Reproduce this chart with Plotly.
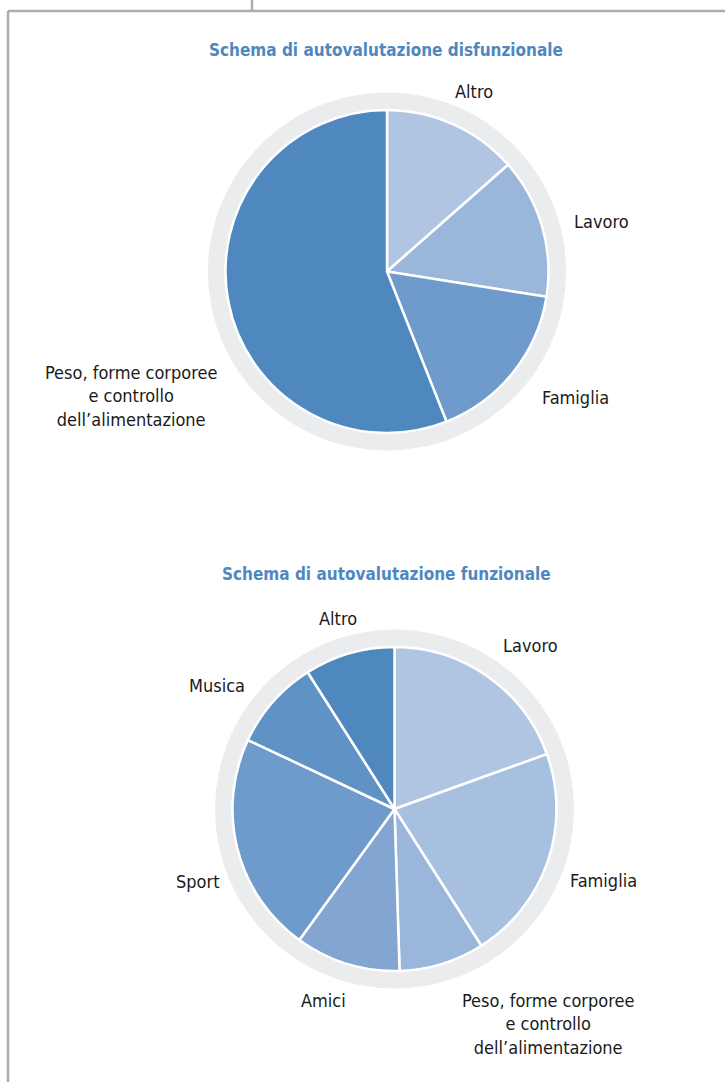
import plotly.graph_objects as go

W, H = 725, 1082

# ---- data ----
title_top = "Schema di autovalutazione disfunzionale"
labels_top = ["Altro", "Lavoro", "Famiglia",
              "Peso, forme corporee<br>e controllo<br>dell\u2019alimentazione"]
values_top = [13.5, 14, 16.5, 56]
colors_top = ["#AFC5E1", "#9AB7DB", "#6E9BCB", "#4F88BF"]

title_bot = "Schema di autovalutazione funzionale"
labels_bot = ["Lavoro", "Famiglia",
              "Peso, forme corporee<br>e controllo<br>dell\u2019alimentazione",
              "Amici", "Sport", "Musica", "Altro"]
values_bot = [19.5, 21.5, 8.5, 10.5, 22, 9, 9]
colors_bot = ["#AFC5E1", "#A7C0E0", "#9AB7DB", "#82A6D1", "#6E9BCB", "#5F92C5", "#4F88BF"]

# label placement (pixel centres) – layout only
pos_top = [(474, 92), (601, 222), (575, 397), (131, 396)]
pos_bot = [(530, 645), (603, 880), (548, 1024), (323, 1000), (197, 881), (217, 685), (338, 618)]

FONT = "Noto Sans Condensed, DejaVu Sans Condensed, Liberation Sans Narrow, Roboto Condensed, Open Sans, sans-serif"
RING = "#EBECEE"
TITLE_C = "#4F88BF"


def dom(cx, cy, r):
    return dict(x=[(cx - r) / W, (cx + r) / W], y=[1 - (cy + r) / H, 1 - (cy - r) / H])


fig = go.Figure()

for (cx, cy, r, rr, labels, values, colors) in [
    (387, 271.5, 161.5, 179, labels_top, values_top, colors_top),
    (394.5, 809, 162, 179.5, labels_bot, values_bot, colors_bot),
]:
    fig.add_trace(go.Pie(values=[1], labels=["ring"], domain=dom(cx, cy, rr),
                         marker=dict(colors=[RING], line=dict(width=0)),
                         textinfo="none", hoverinfo="skip", sort=False, showlegend=False))
    fig.add_trace(go.Pie(values=values, labels=labels, domain=dom(cx, cy, r),
                         marker=dict(colors=colors, line=dict(color="white", width=2.5)),
                         textinfo="none", sort=False, direction="clockwise", rotation=0,
                         showlegend=False))

annotations = []
for (x, y), t in [((386, 50), title_top), ((386, 574), title_bot)]:
    annotations.append(dict(x=x / W, y=1 - y / H, xref="paper", yref="paper", text="<b>" + t + "</b>",
                            showarrow=False, xanchor="center", yanchor="middle",
                            font=dict(family=FONT, size=17, color=TITLE_C)))
for pos, labs in [(pos_top, labels_top), (pos_bot, labels_bot)]:
    for (x, y), t in zip(pos, labs):
        annotations.append(dict(x=x / W, y=1 - y / H, xref="paper", yref="paper", text=t,
                                showarrow=False, xanchor="center", yanchor="middle", align="center",
                                font=dict(family=FONT, size=18, color="#1a1a1a")))

frame_c = "#ADADB1"
shapes = [
    dict(type="line", xref="paper", yref="paper", x0=8 / W, x1=8 / W, y0=1 - 11 / H, y1=0,
         line=dict(color=frame_c, width=2.5)),
    dict(type="line", xref="paper", yref="paper", x0=8 / W, x1=1, y0=1 - 11 / H, y1=1 - 11 / H,
         line=dict(color=frame_c, width=2.5)),
    dict(type="line", xref="paper", yref="paper", x0=252 / W, x1=252 / W, y0=1, y1=1 - 11 / H,
         line=dict(color=frame_c, width=2.5)),
]

fig.update_layout(width=W, height=H, margin=dict(l=0, r=0, t=0, b=0),
                  paper_bgcolor="white", plot_bgcolor="white",
                  annotations=annotations, shapes=shapes, showlegend=False)

fig.write_html("out.html", config={"displayModeBar": False},
               post_script="document.body.style.margin='0';document.body.style.overflow='hidden';")
